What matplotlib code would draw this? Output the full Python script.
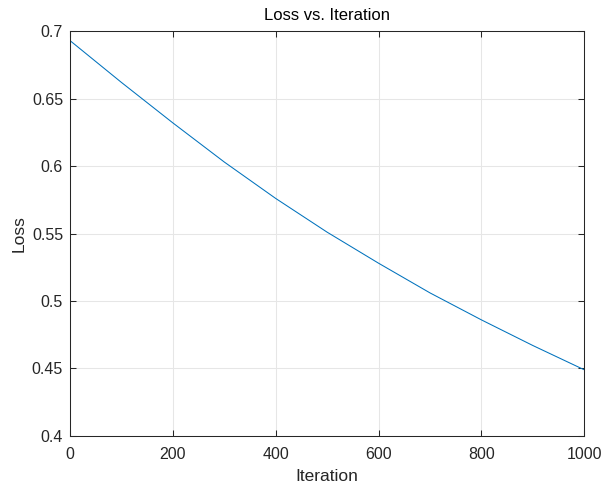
import matplotlib
matplotlib.use('Agg')
import matplotlib.pyplot as plt

plt.rcParams['font.family'] = ['Liberation Sans', 'DejaVu Sans']

iterations = [0, 100, 200, 300, 400, 500, 600, 700, 800, 900, 1000]
loss = [0.693, 0.662, 0.632, 0.603, 0.576, 0.551, 0.528, 0.506, 0.486, 0.467, 0.449]

xticks = [0, 200, 400, 600, 800, 1000]
yticks = [0.4, 0.45, 0.5, 0.55, 0.6, 0.65, 0.7]
yticklabels = ['0.4', '0.45', '0.5', '0.55', '0.6', '0.65', '0.7']

fig = plt.figure(figsize=(6.03, 4.86), dpi=100)
ax = fig.add_axes([0.116, 0.103, 0.853, 0.833])

ax.plot(iterations, loss, color='#0072BD', linewidth=0.75)

ax.set_xlim(0, 1000)
ax.set_ylim(0.4, 0.7)
ax.set_xticks(xticks)
ax.set_yticks(yticks)
ax.set_yticklabels(yticklabels)

ax.grid(True, color='#e6e6e6', linewidth=0.75)
ax.set_axisbelow(True)
for s in ax.spines.values():
    s.set_color('#262626')
    s.set_linewidth(0.75)
ax.tick_params(direction='in', length=4, width=0.75, colors='#262626',
               labelsize=11.5, top=True, right=True, pad=5)
ax.tick_params(axis='x', pad=8)

ax.set_title('Loss vs. Iteration', fontsize=12, color='black', pad=8)
ax.set_xlabel('Iteration', fontsize=12.5, color='#262626', labelpad=5)
ax.set_ylabel('Loss', fontsize=12.5, color='#262626', labelpad=4)

fig.savefig('out.png', dpi=100)
